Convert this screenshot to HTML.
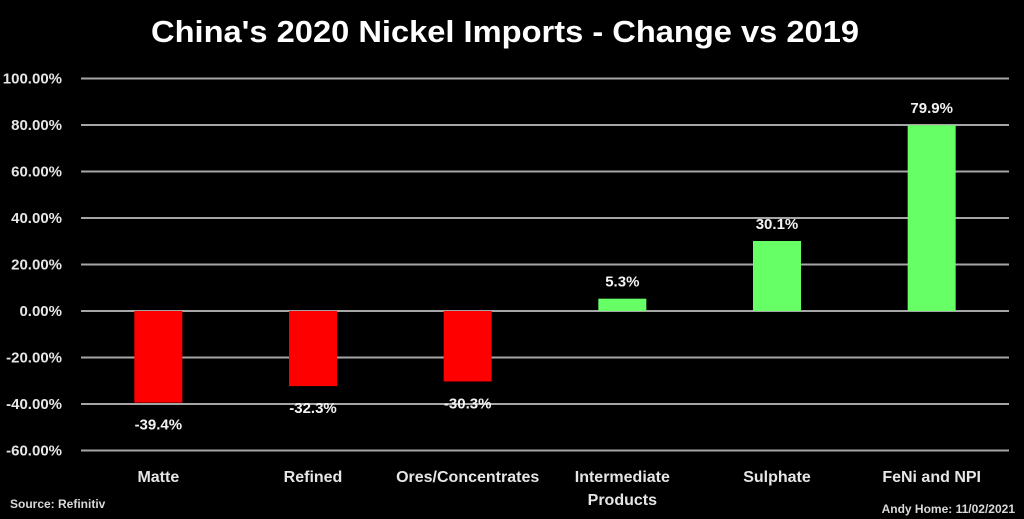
<!DOCTYPE html>
<html><head><meta charset="utf-8"><style>
html,body{margin:0;padding:0;background:#000;}
svg{display:block;font-family:"Liberation Sans",sans-serif;}
</style></head><body>
<svg id="chart" width="1024" height="519">
<rect width="1024" height="519" fill="#000"/>
<text x="505" y="42" text-anchor="middle" fill="#fff" font-size="31" font-weight="bold" textLength="708" lengthAdjust="spacingAndGlyphs">China's 2020 Nickel  Imports - Change vs 2019</text>
<g id="grid"></g><g id="bars"></g><g id="labels"></g>
<text x="10" y="508" fill="#d9d9d9" font-size="12" font-weight="bold">Source: Refinitiv</text>
<text x="1015" y="513" text-anchor="end" fill="#d9d9d9" font-size="12" font-weight="bold">Andy Home: 11/02/2021</text>
</svg>
<script>
const categories=["Matte","Refined","Ores/Concentrates","Intermediate|Products","Sulphate","FeNi and NPI"];
const values=[-39.4,-32.3,-30.3,5.3,30.1,79.9];
const ticks=[100,80,60,40,20,0,-20,-40,-60];
const NS="http://www.w3.org/2000/svg";
const L=81,R=1009,Y0=311,PX=46.5/20;
const y=v=>Y0-v*PX;
const band=(R-L)/categories.length;
const xc=i=>L+band*(i+0.5);
function mk(t,a,p){const e=document.createElementNS(NS,t);for(const k in a)e.setAttribute(k,a[k]);p.appendChild(e);return e;}
const g=document.getElementById('grid'),b=document.getElementById('bars'),lb=document.getElementById('labels');
ticks.forEach(t=>{
 const ln=mk('line',{x1:L,x2:R,y1:y(t),y2:y(t),stroke:'#a6a6a6','stroke-width':2},g);
 
 
 const tx=mk('text',{x:62,y:y(t)+5,'text-anchor':'end',fill:'#e6e6e6','font-size':15,'font-weight':'bold'},g);
 tx.textContent=t.toFixed(2)+'%';
 
 
});
values.forEach((v,i)=>{
 const top=Math.min(y(v),Y0),h=Math.abs(y(v)-Y0);
 const r=mk('rect',{x:xc(i)-24,y:top,width:48,height:h,fill:v<0?'#ff0000':'#66ff66'},b);
 
 
 const vl=mk('text',{x:xc(i),y:v<0?y(v)+27:y(v)-12,'text-anchor':'middle',fill:'#f2f2f2','font-size':15,'font-weight':'bold'},lb);
 vl.textContent=v.toFixed(1)+'%';
 
 
 const parts=categories[i].split('|');
 parts.forEach((p,j)=>{
  const c=mk('text',{x:xc(i),y:482+j*23,'text-anchor':'middle',fill:'#e6e6e6','font-size':16,'font-weight':'bold'},lb);
  c.textContent=p;
  
  
 });
});
</script>
</body></html>
